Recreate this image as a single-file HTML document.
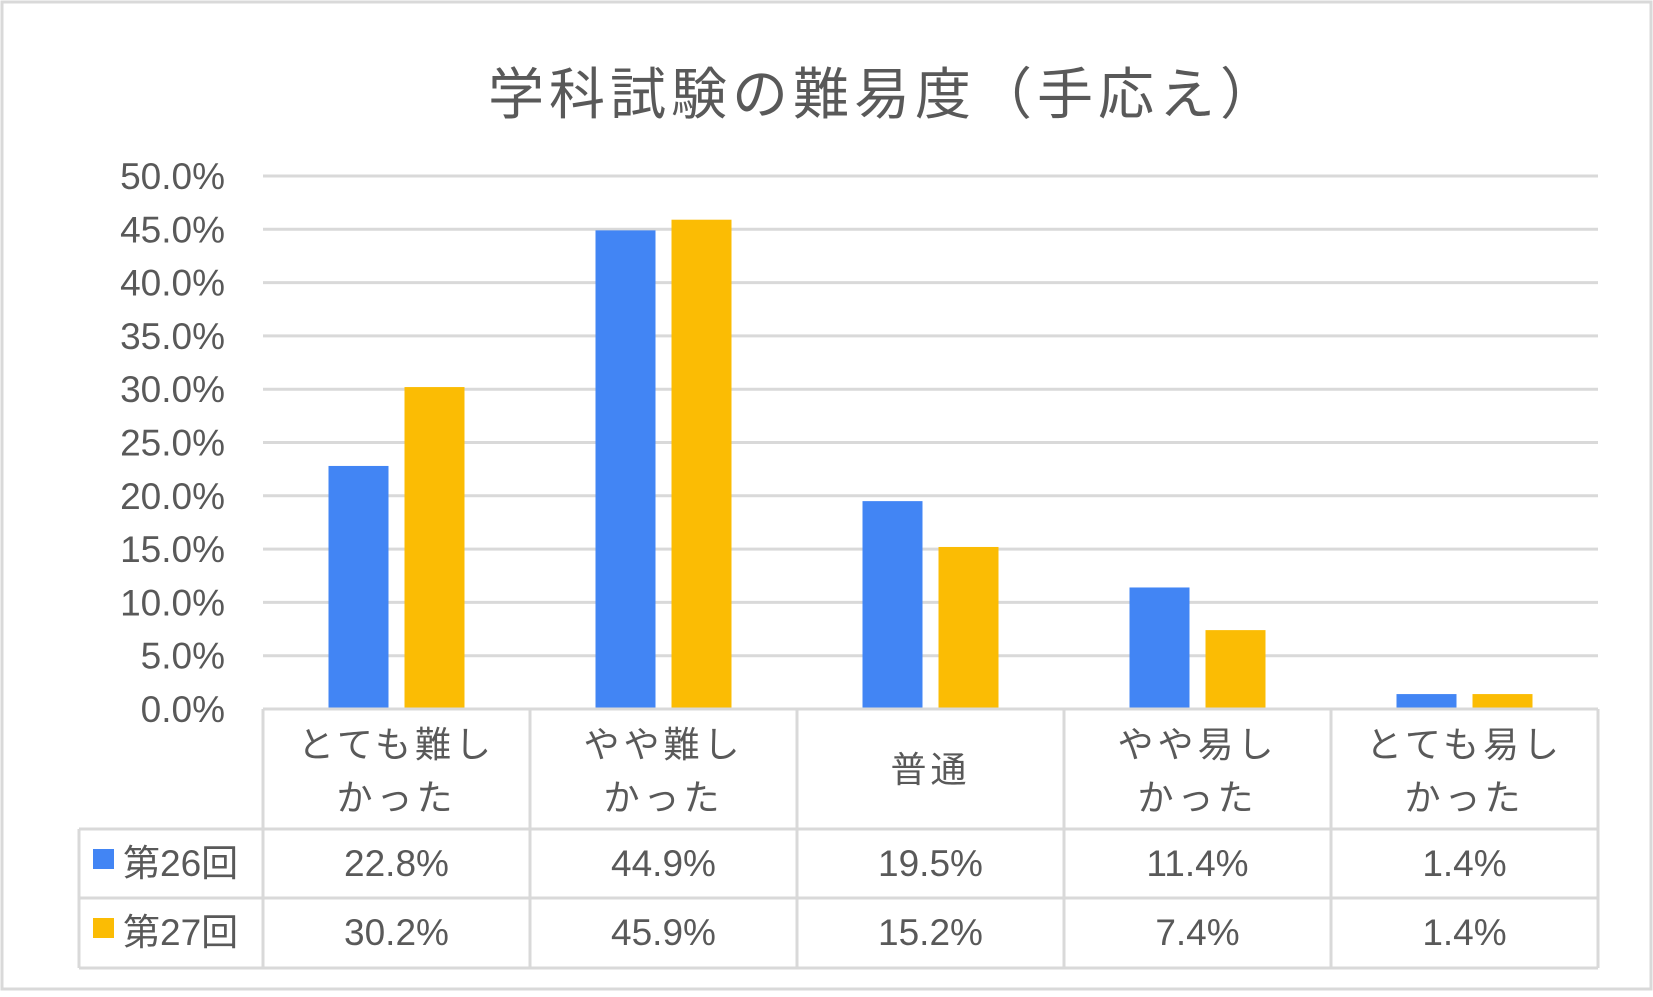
<!DOCTYPE html>
<html><head><meta charset="utf-8"><style>
html,body{margin:0;padding:0;background:#fff;}
svg text{font-family:"Liberation Sans","Noto Sans CJK JP",sans-serif;fill:#595959;}
</style></head><body>
<svg width="1653" height="992" viewBox="0 0 1653 992" xmlns="http://www.w3.org/2000/svg">
<rect x="2" y="2" width="1649" height="987" fill="#fff" stroke="#d9d9d9" stroke-width="3"/>
<text x="882" y="114" font-size="56" text-anchor="middle" textLength="788" lengthAdjust="spacing">学科試験の難易度（手応え）</text>
<g id="grid"></g><g id="bars"></g><g id="table"></g>
</svg>
<script>
const categories=[["とても難し","かった"],["やや難し","かった"],["普通"],["やや易し","かった"],["とても易し","かった"]];
const series26=[22.8,44.9,19.5,11.4,1.4];
const series27=[30.2,45.9,15.2,7.4,1.4];
const seriesNames=["第26回","第27回"];
const tickLabels=["0.0%","5.0%","10.0%","15.0%","20.0%","25.0%","30.0%","35.0%","40.0%","45.0%","50.0%"];
const tickValues=[0,5,10,15,20,25,30,35,40,45,50];

const NS="http://www.w3.org/2000/svg";
const x0=263,colW=267,y0=709,yTop=176,maxV=50;
const yS=v=>y0-(v/maxV)*(y0-yTop);
const colX=i=>x0+i*colW;
function mk(tag,attrs,parent,txt){const e=document.createElementNS(NS,tag);for(const k in attrs)e.setAttribute(k,attrs[k]);if(txt!==undefined)e.textContent=txt;parent.appendChild(e);return e;}
const grid=document.getElementById('grid'),bars=document.getElementById('bars'),table=document.getElementById('table');
tickValues.forEach((v,i)=>{
  if(v>0){const l=mk('line',{x1:x0,x2:colX(5),y1:yS(v),y2:yS(v),stroke:'#d9d9d9','stroke-width':3},grid);
  
  }
  const t=mk('text',{x:225,y:yS(v)+13,'font-size':37,'text-anchor':'end'},grid,tickLabels[i]);
  
  
});
const colors=["#4285f4","#fbbc04"];
[series26,series27].forEach((s,si)=>{
  s.forEach((v,i)=>{
    const cx=colX(i)+colW/2;
    const bx=si===0?cx-68:cx+8;
    const r=mk('rect',{x:bx,y:yS(v),width:60,height:y0-yS(v),fill:colors[si]},bars);
    
    
  });
});
// table lines
const tc='#d9d9d9';
const hl=(x1,x2,y)=>{const l=mk('line',{x1:x1,x2:x2,y1:y,y2:y,stroke:tc,'stroke-width':3},table);};
const vl=(x,y1,y2)=>{const l=mk('line',{x1:x,x2:x,y1:y1,y2:y2,stroke:tc,'stroke-width':3},table);};
hl(x0,colX(5),y0);hl(79,colX(5),829);hl(79,colX(5),898);hl(79,colX(5),968);
for(let i=0;i<=5;i++)vl(colX(i),y0,968);
vl(79,829,968);
categories.forEach((c,i)=>{
  const cx=colX(i)+colW/2;
  if(c.length===1){const t=mk('text',{x:cx,y:782,'font-size':36,'text-anchor':'middle','letter-spacing':4},table,c[0]);}
  else c.forEach((ln,j)=>{const t=mk('text',{x:cx,y:757+j*53,'font-size':36,'text-anchor':'middle','letter-spacing':4},table,ln);});
});
[series26,series27].forEach((s,si)=>{
  const ry=si===0?876:945;
  const sq=mk('rect',{x:93,y:ry-27,width:21,height:20,fill:colors[si]},table);
  
  
  const lt=mk('text',{x:123,y:ry,'font-size':37},table,seriesNames[si]);
  
  
  s.forEach((v,i)=>{
    const t=mk('text',{x:colX(i)+colW/2,y:ry,'font-size':37,'text-anchor':'middle'},table,v.toFixed(1)+'%');
    
    
  });
});
</script>
</body></html>
